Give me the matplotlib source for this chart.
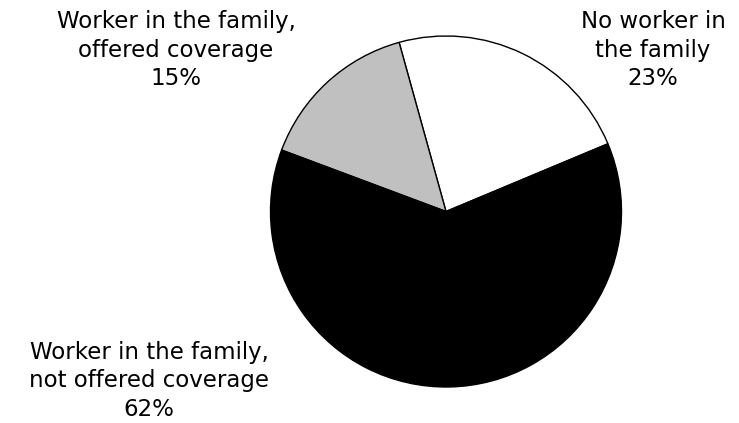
import matplotlib
matplotlib.use("Agg")
import matplotlib.pyplot as plt

labels = ["No worker in\nthe family\n23%",
          "Worker in the family,\noffered coverage\n15%",
          "Worker in the family,\nnot offered coverage\n62%"]
values = [23, 15, 62]
colors = ["#ffffff", "#c0c0c0", "#000000"]

W, H = 739, 423
fig = plt.figure(figsize=(W / 100, H / 100), dpi=100)
ax = fig.add_axes([0, 0, 1, 1])

cx, cy, r = 446, 211.5, 175.5
ax.pie(values, colors=colors, startangle=22.7, counterclock=True,
       center=(cx, cy), radius=r, frame=True,
       wedgeprops=dict(edgecolor="black", linewidth=1))
ax.set_xlim(0, W)
ax.set_ylim(0, H)
ax.set_aspect("equal")
ax.axis("off")

label_pos = [(653, H - 50), (176, H - 50), (149, H - 381)]
for txt, (x, y) in zip(labels, label_pos):
    ax.text(x, y, txt, ha="center", va="center", fontsize=16.5,
            family="DejaVu Sans", linespacing=1.33, color="black")

fig.savefig("out.png", dpi=100)
